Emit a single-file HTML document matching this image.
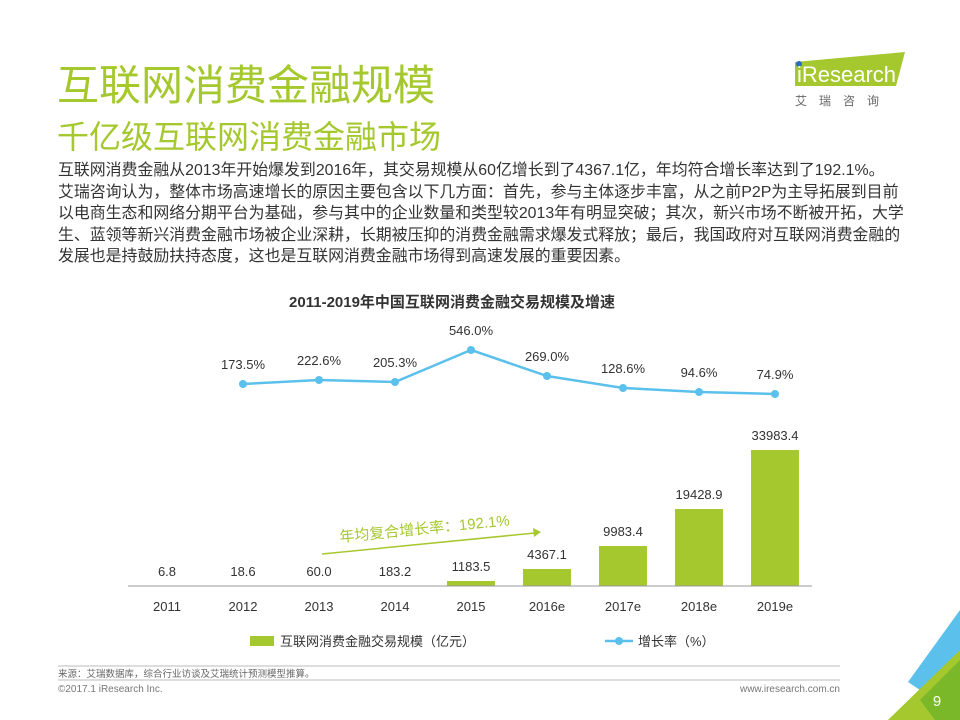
<!DOCTYPE html>
<html><head><meta charset="utf-8"><style>
body{margin:0;width:960px;height:720px;background:#fff;overflow:hidden;position:relative;font-family:"Liberation Sans","Noto Sans CJK SC",sans-serif}
.t1{position:absolute;left:57px;top:52px;font-size:42px;color:#a5c82e;white-space:nowrap}
.t2{position:absolute;left:57px;top:112px;font-size:32px;color:#a5c82e;white-space:nowrap}
.p{position:absolute;left:58px;top:160px;font-size:15.9px;line-height:21.5px;color:#333;white-space:nowrap}
</style></head><body>
<div class="t1">互联网消费金融规模</div>
<div class="t2">千亿级互联网消费金融市场</div>
<div class="p">互联网消费金融从2013年开始爆发到2016年，其交易规模从60亿增长到了4367.1亿，年均符合增长率达到了192.1%。<br>艾瑞咨询认为，整体市场高速增长的原因主要包含以下几方面：首先，参与主体逐步丰富，从之前P2P为主导拓展到目前<br>以电商生态和网络分期平台为基础，参与其中的企业数量和类型较2013年有明显突破；其次，新兴市场不断被开拓，大学<br>生、蓝领等新兴消费金融市场被企业深耕，长期被压抑的消费金融需求爆发式释放；最后，我国政府对互联网消费金融的<br>发展也是持鼓励扶持态度，这也是互联网消费金融市场得到高速发展的重要因素。</div>
<svg width="960" height="720" style="position:absolute;left:0;top:0" font-family="Liberation Sans, Noto Sans CJK SC, sans-serif">
<polygon points="795,62 905,52 896,86 795,86" fill="#a5c82e"/>
<circle cx="799" cy="64" r="3" fill="#2c6fb0"/>
<text x="797" y="82" font-size="22" fill="#fff">iResearch</text>
<text x="795" y="105" font-size="12" fill="#666" letter-spacing="12">艾瑞咨询</text>
<text x="452" y="307" font-size="15" font-weight="bold" fill="#333" text-anchor="middle">2011-2019年中国互联网消费金融交易规模及增速</text>
<g fill="#a5c82e">
<rect x="447" y="581" width="48" height="5"/>
<rect x="523" y="569" width="48" height="17"/>
<rect x="599" y="546" width="48" height="40"/>
<rect x="675" y="509" width="48" height="77"/>
<rect x="751" y="450" width="48" height="136"/>
</g>
<line x1="128" y1="586" x2="812" y2="586" stroke="#999" stroke-width="1"/>
<g font-size="13" fill="#333" text-anchor="middle">
<text x="167" y="576">6.8</text><text x="243" y="576">18.6</text><text x="319" y="576">60.0</text><text x="395" y="576">183.2</text><text x="471" y="571">1183.5</text><text x="547" y="559">4367.1</text><text x="623" y="536">9983.4</text><text x="699" y="499">19428.9</text><text x="775" y="440">33983.4</text>
<text x="167" y="611">2011</text><text x="243" y="611">2012</text><text x="319" y="611">2013</text><text x="395" y="611">2014</text><text x="471" y="611">2015</text><text x="547" y="611">2016e</text><text x="623" y="611">2017e</text><text x="699" y="611">2018e</text><text x="775" y="611">2019e</text>
<text x="243" y="369">173.5%</text><text x="319" y="365">222.6%</text><text x="395" y="367">205.3%</text><text x="471" y="335">546.0%</text><text x="547" y="361">269.0%</text><text x="623" y="373">128.6%</text><text x="699" y="377">94.6%</text><text x="775" y="379">74.9%</text>
</g>
<polyline points="243,384 319,380 395,382 471,350 547,376 623,388 699,392 775,394" fill="none" stroke="#5bc0eb" stroke-width="2.5"/>
<g fill="#5bc0eb"><circle cx="243" cy="384" r="4"/><circle cx="319" cy="380" r="4"/><circle cx="395" cy="382" r="4"/><circle cx="471" cy="350" r="4"/><circle cx="547" cy="376" r="4"/><circle cx="623" cy="388" r="4"/><circle cx="699" cy="392" r="4"/><circle cx="775" cy="394" r="4"/></g>
<line x1="322" y1="554" x2="535" y2="533" stroke="#a5c82e" stroke-width="1.5"/>
<polygon points="541,532 533,528 534,537" fill="#a5c82e"/>
<text x="340" y="542" font-size="15" fill="#a5c82e" transform="rotate(-5.6 340 542)">年均复合增长率：192.1%</text>
<rect x="250" y="636" width="24" height="10" fill="#a5c82e"/>
<text x="280" y="646" font-size="13" fill="#333">互联网消费金融交易规模（亿元）</text>
<line x1="605" y1="641" x2="633" y2="641" stroke="#5bc0eb" stroke-width="2.5"/><circle cx="619" cy="641" r="4" fill="#5bc0eb"/>
<text x="638" y="646" font-size="13" fill="#333">增长率（%）</text>
<line x1="58" y1="666" x2="840" y2="666" stroke="#bbb"/>
<text x="58" y="677" font-size="9.5" fill="#666">来源：艾瑞数据库，综合行业访谈及艾瑞统计预测模型推算。</text>
<line x1="58" y1="680" x2="840" y2="680" stroke="#bbb"/>
<text x="58" y="692" font-size="10" fill="#777">©2017.1 iResearch Inc.</text>
<text x="840" y="692" font-size="10" fill="#777" text-anchor="end">www.iresearch.com.cn</text>
<polygon points="908,682 960,610 960,660 935,700" fill="#5bc0eb"/>
<polygon points="888,720 960,650 960,720" fill="#a5c82e"/>
<polygon points="920,700 960,660 960,720 935,720" fill="#7ab82a"/>
<text x="937" y="706" font-size="15" fill="#fff" text-anchor="middle">9</text>
</svg>
</body></html>
